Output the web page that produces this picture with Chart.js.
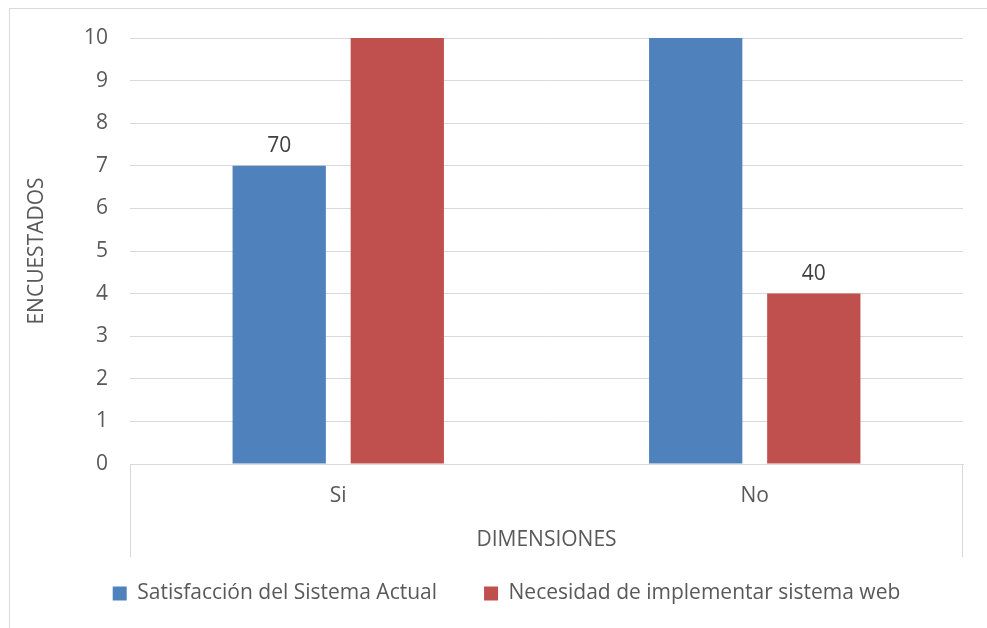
<!DOCTYPE html>
<html>
<head>
<meta charset="utf-8">
<script src="https://cdn.jsdelivr.net/npm/chart.js@4.4.1/dist/chart.umd.min.js"></script>
<style>
  html, body { margin: 0; padding: 0; background: #fff; }
  #wrap { width: 987px; height: 628px; }
</style>
</head>
<body>
<div id="wrap"><canvas id="myChart"></canvas></div>
<script>
// data
const categories = ['Si', 'No'];
const satisfaccion = [7, 10];
const necesidad = [10, 4];
const satisfaccionLabels = ['70', ''];
const necesidadLabels = ['', '40'];
const yTicks = [0, 1, 2, 3, 4, 5, 6, 7, 8, 9, 10];

const FONT = 'Open Sans';
const SIZE = 21;
const GREY = '#595959';

// outer frame, the lines closing the category box, value labels
const frame = {
    id: 'frame',
    afterLayout(chart) {
        // legend sits a bit right of centre in the original
        chart.legend.left += 25;
        chart.legend.right += 25;
    },
    beforeDraw(chart) {
        const c = chart.ctx;
        c.save();
        c.strokeStyle = '#d9d9d9';
        c.lineWidth = 1;
        c.strokeRect(9.5, 8.5, 990, 640);
        c.restore();
    },
    afterDatasetsDraw(chart) {
        const c = chart.ctx, a = chart.chartArea;
        c.save();
        c.strokeStyle = '#d9d9d9';
        c.lineWidth = 1;
        c.beginPath();
        c.moveTo(a.left + 0.5, a.bottom); c.lineTo(a.left + 0.5, a.bottom + 93);
        c.moveTo(a.right - 0.5, a.bottom); c.lineTo(a.right - 0.5, a.bottom + 93);
        c.stroke();
        c.fillStyle = '#404040';
        c.font = SIZE + 'px "' + FONT + '"';
        c.textAlign = 'center';
        c.textBaseline = 'bottom';
        const lbls = [satisfaccionLabels, necesidadLabels];
        chart.data.datasets.forEach((ds, i) => {
            chart.getDatasetMeta(i).data.forEach((bar, j) => {
                const t = lbls[i][j];
                if (t) c.fillText(t, bar.x, bar.y - 9);
            });
        });
        c.restore();
    }
};

new Chart(document.getElementById('myChart'), {
    type: 'bar',
    data: {
        labels: categories,
        datasets: [{
            label: 'Satisfacción del Sistema Actual',
            data: satisfaccion,
            backgroundColor: '#4f81bd',
            barPercentage: 0.79,
            categoryPercentage: 0.567
        }, {
            label: 'Necesidad de implementar sistema web',
            data: necesidad,
            backgroundColor: '#c0504d',
            barPercentage: 0.79,
            categoryPercentage: 0.567
        }]
    },
    options: {
        responsive: true,
        maintainAspectRatio: false,
        animation: false,
        layout: { padding: { top: 38, right: 24, left: 0, bottom: 14 } },
        plugins: {
            tooltip: { enabled: false },
            legend: {
                position: 'bottom',
                labels: {
                    boxWidth: 14,
                    boxHeight: 14,
                    padding: 26,
                    color: GREY,
                    font: { family: FONT, size: SIZE },
                    generateLabels(chart) {
                        const items = Chart.defaults.plugins.legend.labels.generateLabels(chart);
                        // wider gap between the two entries
                        items[0].text += '\u2002\u2002';
                        return items;
                    }
                }
            }
        },
        scales: {
            x: {
                grid: { display: false, drawTicks: false },
                border: { display: true, color: '#d9d9d9' },
                ticks: { color: GREY, padding: 19, font: { family: FONT, size: SIZE } },
                title: { display: true, text: 'DIMENSIONES', color: GREY, padding: { top: 10 }, font: { family: FONT, size: SIZE } },
                afterFit(s) { s.height = 93; }
            },
            y: {
                min: 0,
                max: 10,
                afterBuildTicks(s) { s.ticks = yTicks.map(v => ({ value: v })); },
                grid: { color: '#d9d9d9', drawTicks: false },
                border: { display: false },
                ticks: { color: GREY, padding: 22, font: { family: FONT, size: SIZE } },
                title: { display: true, text: 'ENCUESTADOS', color: GREY, padding: { top: 24, bottom: 0 }, font: { family: FONT, size: SIZE } },
                afterFit(s) { s.width = 130; }
            }
        }
    },
    plugins: [frame]
});
</script>
</body>
</html>
